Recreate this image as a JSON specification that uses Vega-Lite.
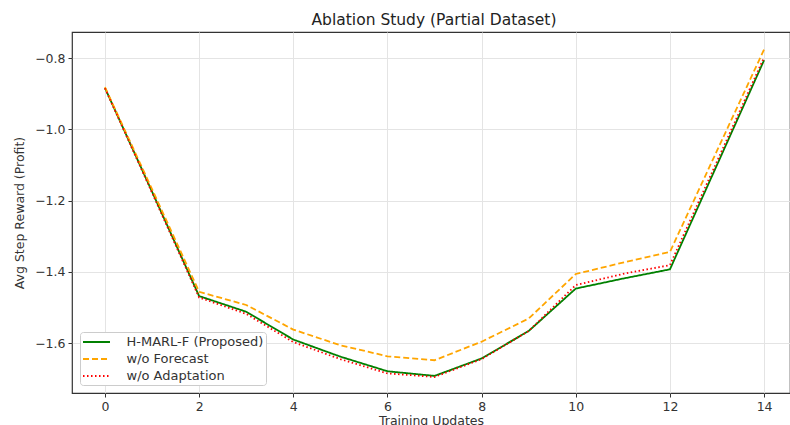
{
  "$schema": "https://vega.github.io/schema/vega-lite/v6.json",
  "autosize": "none",
  "padding": {"left": 72, "top": 32, "right": 0, "bottom": 32},
  "width": 718,
  "height": 361,
  "title": {"text": "Ablation Study (Partial Dataset)", "font": "DejaVu Sans", "fontSize": 15.5, "fontWeight": "normal", "color": "#222", "offset": 4, "dx": 3},
  "data": {"values": [
    {"series": "H-MARL-F (Proposed)", "x": 0, "y": -0.884},
    {"series": "H-MARL-F (Proposed)", "x": 1, "y": -1.175},
    {"series": "H-MARL-F (Proposed)", "x": 2, "y": -1.468},
    {"series": "H-MARL-F (Proposed)", "x": 3, "y": -1.512},
    {"series": "H-MARL-F (Proposed)", "x": 4, "y": -1.590},
    {"series": "H-MARL-F (Proposed)", "x": 5, "y": -1.638},
    {"series": "H-MARL-F (Proposed)", "x": 6, "y": -1.679},
    {"series": "H-MARL-F (Proposed)", "x": 7, "y": -1.692},
    {"series": "H-MARL-F (Proposed)", "x": 8, "y": -1.643},
    {"series": "H-MARL-F (Proposed)", "x": 9, "y": -1.566},
    {"series": "H-MARL-F (Proposed)", "x": 10, "y": -1.447},
    {"series": "H-MARL-F (Proposed)", "x": 11, "y": -1.419},
    {"series": "H-MARL-F (Proposed)", "x": 12, "y": -1.393},
    {"series": "H-MARL-F (Proposed)", "x": 13, "y": -1.100},
    {"series": "H-MARL-F (Proposed)", "x": 14, "y": -0.806},
    {"series": "w/o Forecast", "x": 0, "y": -0.882},
    {"series": "w/o Forecast", "x": 1, "y": -1.168},
    {"series": "w/o Forecast", "x": 2, "y": -1.456},
    {"series": "w/o Forecast", "x": 3, "y": -1.493},
    {"series": "w/o Forecast", "x": 4, "y": -1.562},
    {"series": "w/o Forecast", "x": 5, "y": -1.606},
    {"series": "w/o Forecast", "x": 6, "y": -1.637},
    {"series": "w/o Forecast", "x": 7, "y": -1.648},
    {"series": "w/o Forecast", "x": 8, "y": -1.596},
    {"series": "w/o Forecast", "x": 9, "y": -1.531},
    {"series": "w/o Forecast", "x": 10, "y": -1.406},
    {"series": "w/o Forecast", "x": 11, "y": -1.374},
    {"series": "w/o Forecast", "x": 12, "y": -1.344},
    {"series": "w/o Forecast", "x": 13, "y": -1.060},
    {"series": "w/o Forecast", "x": 14, "y": -0.776},
    {"series": "w/o Adaptation", "x": 0, "y": -0.885},
    {"series": "w/o Adaptation", "x": 1, "y": -1.178},
    {"series": "w/o Adaptation", "x": 2, "y": -1.472},
    {"series": "w/o Adaptation", "x": 3, "y": -1.518},
    {"series": "w/o Adaptation", "x": 4, "y": -1.597},
    {"series": "w/o Adaptation", "x": 5, "y": -1.645},
    {"series": "w/o Adaptation", "x": 6, "y": -1.685},
    {"series": "w/o Adaptation", "x": 7, "y": -1.695},
    {"series": "w/o Adaptation", "x": 8, "y": -1.645},
    {"series": "w/o Adaptation", "x": 9, "y": -1.566},
    {"series": "w/o Adaptation", "x": 10, "y": -1.437},
    {"series": "w/o Adaptation", "x": 11, "y": -1.406},
    {"series": "w/o Adaptation", "x": 12, "y": -1.381},
    {"series": "w/o Adaptation", "x": 13, "y": -1.090},
    {"series": "w/o Adaptation", "x": 14, "y": -0.798}
  ]},
  "mark": {"type": "line", "strokeWidth": 1.8},
  "encoding": {
    "x": {"field": "x", "type": "quantitative", "scale": {"domain": [-0.7, 14.55], "nice": false, "zero": false},
      "axis": {"values": [0, 2, 4, 6, 8, 10, 12, 14], "title": "Training Updates", "titlePadding": 2}},
    "y": {"field": "y", "type": "quantitative", "scale": {"domain": [-1.74, -0.727], "nice": false, "zero": false},
      "axis": {"values": [-1.6, -1.4, -1.2, -1.0, -0.8], "format": ".1f", "title": "Avg Step Reward (Profit)", "titlePadding": 8}},
    "color": {"field": "series", "type": "nominal", "title": null,
      "scale": {"domain": ["H-MARL-F (Proposed)", "w/o Forecast", "w/o Adaptation"], "range": ["#008000", "#FFA500", "#FF0000"]},
      "legend": {"orient": "bottom-left", "offset": 8}},
    "strokeDash": {"field": "series", "type": "nominal", "title": null,
      "scale": {"domain": ["H-MARL-F (Proposed)", "w/o Forecast", "w/o Adaptation"], "range": [[1, 0], [6, 3], [1.5, 2.5]]},
      "legend": {"orient": "bottom-left", "offset": 8}}
  },
  "config": {
    "font": "DejaVu Sans",
    "view": {"stroke": "#333", "strokeWidth": 1.2},
    "axis": {
      "domain": false,
      "grid": true,
      "gridColor": "#e4e4e4",
      "gridWidth": 1,
      "tickColor": "#333",
      "tickSize": 4,
      "labelFont": "DejaVu Sans",
      "labelFontSize": 12.5,
      "labelColor": "#333",
      "labelPadding": 3,
      "titleFont": "DejaVu Sans",
      "titleFontSize": 12.5,
      "titleFontWeight": "normal",
      "titleColor": "#333"
    },
    "legend": {
      "padding": 2,
      "strokeColor": "#cccccc",
      "fillColor": "white",
      "cornerRadius": 3,
      "symbolType": "M-2,0H2",
      "symbolSize": 182,
      "symbolStrokeWidth": 2,
      "symbolOffset": 6.5,
      "labelFont": "DejaVu Sans",
      "labelFontSize": 13,
      "labelColor": "#333",
      "rowPadding": 2,
      "labelOffset": 22
    }
  }
}
